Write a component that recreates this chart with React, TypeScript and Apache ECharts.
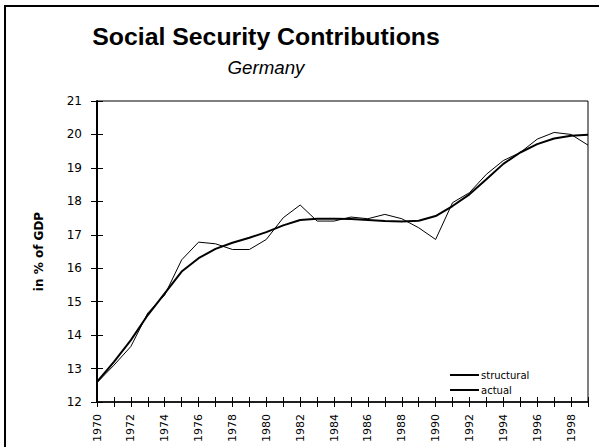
import React, { useEffect, useRef } from "react";
import * as echarts from "echarts";

const years: string[] = [
  "1970", "1971", "1972", "1973", "1974", "1975", "1976", "1977", "1978", "1979",
  "1980", "1981", "1982", "1983", "1984", "1985", "1986", "1987", "1988", "1989",
  "1990", "1991", "1992", "1993", "1994", "1995", "1996", "1997", "1998", "1999",
];

const structural: number[] = [
  12.6, 13.2, 13.85, 14.6, 15.25, 15.9, 16.3, 16.58, 16.76, 16.91,
  17.08, 17.28, 17.44, 17.48, 17.48, 17.47, 17.44, 17.41, 17.4, 17.42,
  17.56, 17.86, 18.21, 18.66, 19.12, 19.46, 19.71, 19.88, 19.96, 19.99,
];

const actual: number[] = [
  12.58, 13.1, 13.66, 14.66, 15.2, 16.25, 16.78, 16.73, 16.56, 16.56,
  16.86, 17.51, 17.89, 17.41, 17.41, 17.53, 17.48, 17.61, 17.48, 17.21,
  16.86, 17.96, 18.26, 18.81, 19.22, 19.46, 19.86, 20.06, 20.0, 19.68,
];

const titleText = "Social Security Contributions";
const subtitleText = "Germany";
const yAxisName = "in % of GDP";
const seriesNames = ["structural", "actual"];

export default function App() {
  const ref = useRef<HTMLDivElement>(null);
  useEffect(() => {
    if (!ref.current) return;
    const chart = echarts.init(ref.current, undefined, { renderer: "svg" });
    const grid = { left: 97, top: 101, right: 11, bottom: 45 };
    chart.setOption({
      animation: false,
      backgroundColor: "#ffffff",
      graphic: [
        {
          type: "rect",
          shape: { x: 5, y: 6, width: 640, height: 500 },
          style: { fill: "none", stroke: "#000", lineWidth: 2 },
          silent: true,
          z: 100,
        },
        {
          type: "text",
          x: 266,
          y: 37,
          scaleX: 1.035,
          style: {
            text: titleText,
            fontFamily: "Liberation Sans, Arial, sans-serif",
            fontWeight: "bold",
            fontSize: 24,
            fill: "#000",
            align: "center",
            verticalAlign: "middle",
          },
        },
        {
          type: "text",
          x: 266,
          y: 68,
          scaleX: 1.04,
          style: {
            text: subtitleText,
            fontFamily: "Liberation Sans, Arial, sans-serif",
            fontStyle: "italic",
            fontSize: 18,
            fill: "#000",
            align: "center",
            verticalAlign: "middle",
          },
        },
      ],
      grid: { ...grid, show: true, borderColor: "#000", borderWidth: 1, backgroundColor: "transparent" },
      legend: {
        orient: "vertical",
        left: 444,
        top: 365,
        itemWidth: 29,
        itemHeight: 10,
        itemGap: 5,
        data: seriesNames,
        itemStyle: { opacity: 0 },
        textStyle: { fontFamily: "DejaVu Sans", fontSize: 10, color: "#000", padding: [0, 0, 0, -3] },
      },
      xAxis: [
        {
          type: "category",
          data: years,
          boundaryGap: false,
          axisLine: { show: true, lineStyle: { color: "#000", width: 1.5 } },
          axisTick: { show: true, interval: 0, length: 5, inside: false, lineStyle: { color: "#000" } },
          axisLabel: {
            interval: 1,
            rotate: 90,
            margin: 12,
            fontFamily: "DejaVu Sans",
            fontSize: 11,
            color: "#000",
          },
          splitLine: { show: false },
        },
        {
          type: "category",
          data: years,
          boundaryGap: false,
          position: "bottom",
          axisLine: { show: false },
          axisTick: { show: true, interval: 0, length: 5, inside: true, lineStyle: { color: "#000" } },
          axisLabel: { show: false },
          splitLine: { show: false },
        },
      ],
      yAxis: [
        {
          type: "value",
          min: 12,
          max: 21,
          interval: 1,
          name: yAxisName,
          nameLocation: "middle",
          nameGap: 52,
          nameRotate: 90,
          nameTextStyle: { fontFamily: "DejaVu Sans", fontWeight: "bold", fontSize: 12, color: "#000" },
          axisLine: { show: true, lineStyle: { color: "#000", width: 2 } },
          axisTick: { show: true, length: 6, inside: false, lineStyle: { color: "#000" } },
          axisLabel: { margin: 15, fontFamily: "DejaVu Sans", fontSize: 12, color: "#000" },
          splitLine: { show: false },
        },
        {
          type: "value",
          min: 12,
          max: 21,
          interval: 1,
          position: "left",
          axisLine: { show: false },
          axisTick: { show: true, length: 6, inside: true, lineStyle: { color: "#000" } },
          axisLabel: { show: false },
          splitLine: { show: false },
        },
      ],
      series: [
        {
          name: seriesNames[0],
          type: "line",
          data: structural,
          symbol: "none",
          lineStyle: { color: "#000", width: 2 },
          itemStyle: { color: "#000" },
          z: 3,
        },
        {
          name: seriesNames[1],
          type: "line",
          data: actual,
          symbol: "none",
          lineStyle: { color: "#000", width: 1 },
          itemStyle: { color: "#000" },
          z: 2,
        },
      ],
    });
    return () => chart.dispose();
  }, []);
  return (
    <div
      ref={ref}
      style={{ position: "fixed", left: 0, top: 0, width: 599, height: 447 }}
    />
  );
}
